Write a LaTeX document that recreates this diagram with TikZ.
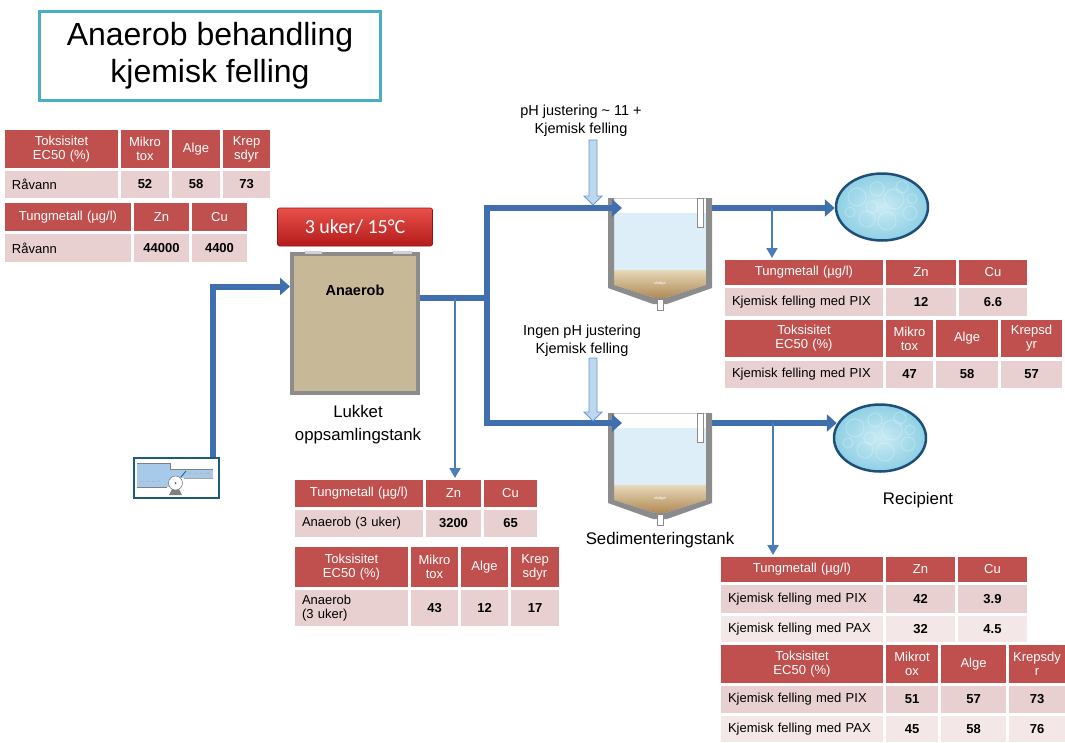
\documentclass[tikz,border=0pt]{standalone}
\usepackage{fontspec}
\setmainfont{Liberation Sans}
\newfontfamily\calibfont{Carlito}
\usetikzlibrary{arrows.meta,shapes.geometric}
\hyphenpenalty=10000 \exhyphenpenalty=10000

\definecolor{hdrred}{HTML}{C0504D}
\definecolor{rowa}{HTML}{E9D0D0}
\definecolor{rowb}{HTML}{F3E7E7}
\definecolor{titleteal}{HTML}{4BACC6}
\definecolor{pipeblue}{HTML}{3F6FAE}
\definecolor{tapblue}{HTML}{4A7EBB}
\definecolor{dosefill}{HTML}{BDD7EE}
\definecolor{doseedge}{HTML}{6A96CC}
\definecolor{tankgray}{HTML}{8C8C8C}
\definecolor{tanfill}{HTML}{C7B897}
\definecolor{water}{HTML}{DDEEF8}
\definecolor{sludgetop}{HTML}{E7D8B8}
\definecolor{sludgebot}{HTML}{B08A55}
\definecolor{pumpedge}{HTML}{1E5C74}
\definecolor{pumpwater}{HTML}{A7C9EA}
\definecolor{recedge}{HTML}{1F4E79}
\definecolor{recin}{HTML}{CBEBF5}
\definecolor{recout}{HTML}{8ED0E4}
\definecolor{tempa}{HTML}{E8504A}
\definecolor{tempb}{HTML}{B41C1C}

% table cell: [style]{name}(x1,y1)(x2,y2){text}
\def\cell[#1]#2(#3,#4)(#5,#6)#7{%
  \pgfmathsetmacro\cw{#5-#3}\pgfmathsetmacro\ch{#6-#4}%
  \pgfmathsetmacro\tw{#5-#3-6}\pgfmathsetmacro\tl{#5-#3-14}%
  \node[cellbox,minimum width=\cw pt,minimum height=\ch pt,text width=\tw pt,#1] (#2) at ({(#3+#5)/2},{(#4+#6)/2}) {#7};}
% settling tank with its top left corner at (x,y)
\def\sedtank#1(#2,#3){%
  \begin{scope}[shift={(#2,#3)}]
    \fill[white] (6,0) rectangle (98,15);
    \fill[water] (6,15) -- (98,15) -- (98,87) -- (57,100) -- (47,100) -- (6,87) -- cycle;
    \shade[top color=sludgetop, bottom color=sludgebot] (6,72) -- (98,72) -- (98,87) -- (57,100) -- (47,100) -- (6,87) -- cycle;
    \draw[gray!40, line width=0.6pt] (6,0) -- (98,0);
    \fill[tankgray] (0,0) -- (0,90) -- (45,106) -- (59,106) -- (104,90) -- (104,0) -- (98,0) -- (98,87) -- (57,100) -- (47,100) -- (6,87) -- (6,0) -- cycle;
    \filldraw[fill=white, draw=tankgray, line width=0.6pt] (89,0) rectangle (95,29);
    \filldraw[fill=white, draw=tankgray, line width=0.6pt] (49,101) rectangle (55,112);
    \node[text=white, font=\fontsize{4}{4}\selectfont] (#1-sl) at (52,85) {sludge};
    \coordinate (#1-in) at (14,10);
    \coordinate (#1-out) at (104,10);
  \end{scope}}
% dosing arrow at x from ytop down to ytip
\def\dose(#1,#2,#3){\filldraw[fill=dosefill, draw=doseedge, line width=0.8pt] ({#1-4},#2) -- ({#1+4},#2) -- ({#1+4},{#3-9}) -- ({#1+9},{#3-9}) -- (#1,#3) -- ({#1-9},{#3-9}) -- ({#1-4},{#3-9}) -- cycle;}

\begin{document}
\begin{tikzpicture}[x=1pt, y=-1pt,
    cellbox/.style={inner sep=0pt, outer sep=0pt, font=\fontsize{13}{14}\selectfont},
    hdr/.style={fill=hdrred, text=white, align=center},
    lab/.style={fill=rowa, align=left, text width=\tl pt},
    val/.style={fill=rowa, align=center, font=\fontsize{13}{14}\selectfont\bfseries},
    pipe/.style={line width=6pt, pipeblue},
    arr/.style={-{Triangle[length=10pt,width=17pt]}},
    tap/.style={line width=2pt, tapblue, -{Triangle[length=10pt,width=11pt]}, shorten >=2pt},
    txt/.style={align=center, font=\fontsize{16.8}{23}\selectfont},
    small/.style={align=center, font=\fontsize{14.5}{18}\selectfont},
    recip/.style={ellipse, draw=recedge, line width=2.5pt, inner color=recin, outer color=recout,
      minimum width=92pt, minimum height=67pt,
      path picture={\foreach \bx/\by/\br in {-25/-10/9, -5/-18/7, 12/-8/10, 28/6/7, -15/12/8, 5/14/9, -32/5/5, 20/-20/6, -10/0/6, 30/-8/5}
        \draw[white, opacity=.22, line width=1.2pt] ([shift={(\bx,\by)}]path picture bounding box.center) circle (\br pt);}}]
  \useasboundingbox (0,0) rectangle (1065,742);

  %%%%% TITLE %%%%%
  \node[draw=titleteal, line width=3pt, minimum width=341pt, minimum height=89pt, align=center,
    font=\fontsize{32}{37}\selectfont] (title) at (210,56) {Anaerob behandling\\kjemisk felling};

  %%%%% TABLES, raw water %%%%%
  \cell[hdr]{r1-n}(5,130)(118,168){Toksisitet\\EC50 (\%)}
  \cell[hdr]{r1-m}(121,130)(169,168){Mikro\\tox}
  \cell[hdr]{r1-a}(172,130)(220,168){Alge}
  \cell[hdr]{r1-k}(223,130)(270,168){Krep\\sdyr}
  \cell[lab]{r1-l}(5,171)(118,198){Råvann}
  \cell[val]{r1-v1}(121,171)(169,198){52}
  \cell[val]{r1-v2}(172,171)(220,198){58}
  \cell[val]{r1-v3}(223,171)(270,198){73}

  \cell[hdr]{r2-n}(5,203)(131,231){Tungmetall (µg/l)}
  \cell[hdr]{r2-zn}(134,203)(189,231){Zn}
  \cell[hdr]{r2-cu}(192,203)(247,231){Cu}
  \cell[lab]{r2-l}(5,234)(131,262){Råvann}
  \cell[val]{r2-v1}(134,234)(189,262){44000}
  \cell[val]{r2-v2}(192,234)(247,262){4400}

  %%%%% TABLES, anaerobic tank %%%%%
  \cell[hdr]{a1-n}(295,480)(423,507){Tungmetall (µg/l)}
  \cell[hdr]{a1-zn}(426,480)(481,507){Zn}
  \cell[hdr]{a1-cu}(484,480)(537,507){Cu}
  \cell[lab]{a1-l}(295,510)(423,537){Anaerob (3 uker)}
  \cell[val]{a1-v1}(426,510)(481,537){3200}
  \cell[val]{a1-v2}(484,510)(537,537){65}

  \cell[hdr]{a2-n}(295,547)(408,587){Toksisitet\\EC50 (\%)}
  \cell[hdr]{a2-m}(411,547)(458,587){Mikro\\tox}
  \cell[hdr]{a2-a}(461,547)(508,587){Alge}
  \cell[hdr]{a2-k}(511,547)(559,587){Krep\\sdyr}
  \cell[lab]{a2-l}(295,590)(408,626){Anaerob\\(3 uker)}
  \cell[val]{a2-v1}(411,590)(458,626){43}
  \cell[val]{a2-v2}(461,590)(508,626){12}
  \cell[val]{a2-v3}(511,590)(559,626){17}

  %%%%% TABLES, pH adjusted %%%%%
  \cell[hdr]{p1-n}(725,260)(883,285){Tungmetall (µg/l)}
  \cell[hdr]{p1-zn}(886,260)(956,285){Zn}
  \cell[hdr]{p1-cu}(959,260)(1027,285){Cu}
  \cell[lab]{p1-l}(725,288)(883,316){Kjemisk felling med PIX}
  \cell[val]{p1-v1}(886,288)(956,316){12}
  \cell[val]{p1-v2}(959,288)(1027,316){6.6}

  \cell[hdr]{p2-n}(725,320)(883,357){Toksisitet\\EC50 (\%)}
  \cell[hdr]{p2-m}(886,320)(933,357){Mikro\\tox}
  \cell[hdr]{p2-a}(936,320)(998,357){Alge}
  \cell[hdr]{p2-k}(1001,320)(1062,357){Krepsd\\yr}
  \cell[lab]{p2-l}(725,361)(883,388){Kjemisk felling med PIX}
  \cell[val]{p2-v1}(886,361)(933,388){47}
  \cell[val]{p2-v2}(936,361)(998,388){58}
  \cell[val]{p2-v3}(1001,361)(1062,388){57}

  %%%%% TABLES, no pH adjustment %%%%%
  \cell[hdr]{q1-n}(721,557)(883,582){Tungmetall (µg/l)}
  \cell[hdr]{q1-zn}(886,557)(955,582){Zn}
  \cell[hdr]{q1-cu}(958,557)(1027,582){Cu}
  \cell[lab]{q1-l1}(721,585)(883,613){Kjemisk felling med PIX}
  \cell[val]{q1-v11}(886,585)(955,613){42}
  \cell[val]{q1-v12}(958,585)(1027,613){3.9}
  \cell[lab,fill=rowb]{q1-l2}(721,616)(883,642){Kjemisk felling med PAX}
  \cell[val,fill=rowb]{q1-v21}(886,616)(955,642){32}
  \cell[val,fill=rowb]{q1-v22}(958,616)(1027,642){4.5}

  \cell[hdr]{q2-n}(721,645)(883,683){Toksisitet\\EC50 (\%)}
  \cell[hdr]{q2-m}(886,645)(938,683){Mikrot\\ox}
  \cell[hdr]{q2-a}(941,645)(1006,683){Alge}
  \cell[hdr]{q2-k}(1009,645)(1065,683){Krepsdy\\r}
  \cell[lab]{q2-l1}(721,686)(883,713){Kjemisk felling med PIX}
  \cell[val]{q2-v11}(886,686)(938,713){51}
  \cell[val]{q2-v12}(941,686)(1006,713){57}
  \cell[val]{q2-v13}(1009,686)(1065,713){73}
  \cell[lab,fill=rowb]{q2-l2}(721,716)(883,742){Kjemisk felling med PAX}
  \cell[val,fill=rowb]{q2-v21}(886,716)(938,742){45}
  \cell[val,fill=rowb]{q2-v22}(941,716)(1006,742){58}
  \cell[val,fill=rowb]{q2-v23}(1009,716)(1065,742){76}

  %%%%% ANAEROBIC TANK %%%%%
  \node[rounded corners=2pt, top color=tempa, bottom color=tempb, draw=tempb!80!black, line width=0.6pt,
    minimum width=155pt, minimum height=38pt, text=white, font=\calibfont\fontsize{20}{22}\selectfont] (temp) at (355,227) {3 uker/ 15°C};
  \node[draw=tankgray, line width=4pt, fill=tanfill, minimum width=126pt, minimum height=139pt, inner sep=0pt] (tank) at (355,323.5) {};
  \draw[gray!35, line width=3pt] (305,252) -- (322,252);
  \draw[gray!35, line width=3pt] (393,252) -- (412,252);
  \node[font=\fontsize{14.5}{16}\selectfont\bfseries] (tanklbl) at (355,290) {Anaerob};
  \node[txt] (tanktxt) at (358,425) {Lukket\\oppsamlingstank};

  %%%%% PUMP %%%%%
  \node[draw=pumpedge, line width=2.5pt, fill=white, minimum width=85pt, minimum height=40pt, inner sep=0pt] (pump) at (176.5,478) {};
  \fill[pumpwater] (137,463) rectangle (170,487);
  \fill[pumpwater] (170,469) rectangle (213,478);
  \draw[gray, line width=0.5pt] (137,463) -- (170,463) -- (170,469) -- (213,469);
  \draw[gray, line width=0.5pt] (137,487) -- (167,487);
  \draw[gray!70, line width=0.5pt] (184,478) -- (213,478);
  \draw[gray!60, dashed, line width=0.4pt, -{Stealth[length=2pt]}] (140,481) -- (160,481);
  \draw[gray!60, dashed, line width=0.4pt, -{Stealth[length=2pt]}] (188,473) -- (210,473);
  \fill[gray] (169,495) -- (182,495) -- (179,489) -- (172,489) -- cycle;
  \filldraw[fill=white, draw=gray, line width=0.6pt] (175.5,483) circle (7pt);
  \fill[gray!70!black] (175.5,483) circle (1pt);
  \draw[pumpedge, line width=0.8pt] (181,477) -- (186,471);

  %%%%% SETTLING TANKS AND RECIPIENT %%%%%
  \sedtank{sed1}(608,198)
  \sedtank{sed2}(608,413)
  \node[recip] (rec1) at (882,207) {};
  \node[recip] (rec2) at (880,438) {};

  %%%%% PIPES %%%%%
  \coordinate (pumptap) at (213,457);
  \coordinate (split) at (487,298);
  \coordinate (tap0) at (455,298);
  \coordinate (tap1) at (772,208);
  \coordinate (tap2) at (773,208+215);
  \draw[pipe, arr] (pumptap) |- ([yshift=37pt]tank.west);
  \draw[pipe] ([yshift=25.5pt]tank.east) -- (split);
  \draw[pipe, arr] (split) |- (sed1-in);
  \draw[pipe, arr] (split) |- (sed2-in);
  \draw[pipe, arr] (sed1-out) -- (sed1-out -| rec1.west);
  \draw[pipe, arr] (sed2-out) -- ([xshift=4pt]sed2-out -| rec2.west);

  \draw[tap] (tap0) -- (tap0 |- a1-zn.north);
  \draw[tap] (tap1) -- (tap1 |- p1-n.north);
  \draw[tap] (tap2) -- (tap2 |- q1-n.north);

  \dose(593,140,205)
  \dose(593,358,421)

  %%%%% LABELS %%%%%
  \node[small] (ph1) at (581,121) {pH justering \textasciitilde{} 11 +\\Kjemisk felling};
  \node[small] (ph2) at (582,341) {Ingen pH justering\\Kjemisk felling};
  \node[txt] (sedtxt) at (660,540) {Sedimenteringstank};
  \node[txt] (rectxt) at (918,500) {Recipient};
\end{tikzpicture}
\end{document}
